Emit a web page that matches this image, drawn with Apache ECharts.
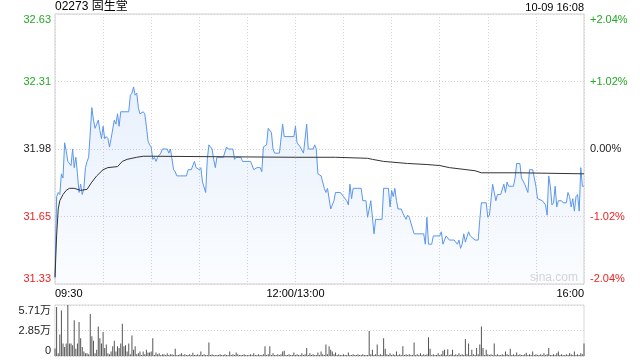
<!DOCTYPE html>
<html><head><meta charset="utf-8">
<script src="https://cdn.jsdelivr.net/npm/echarts@6/dist/echarts.min.js"></script>
<style>html,body{margin:0;padding:0;background:#fff}#c{width:640px;height:360px}</style>
</head><body><div id="c"></div>
<script>
// ---- data ----
const stockTitle = '02273 固生堂';
const stampText = '10-09 16:08';
const prevClose = 31.98;
const rangePct = 2.04;
const timeLabels = ['09:30', '12:00/13:00', '16:00'];
const timeLabelMinutes = [0, 150, 330];
// minutes of trading time since 09:30
const priceMinute = [0,1,2,3,4,5,6,7,8,10,11,12,13,14,15,16,17,18,19,20,21,23,24,25,26,27,28,29,30,31,32,33,34,35,36,37,38,39,40,41,42,46,47,48,49,50,51,52,53,54,55,56,57,58,59,60,61,62,63,64,65,66,67,70,71,72,73,74,75,76,82,83,85,87,88,90,91,92,94,95,96,97,98,99,100,101,105,107,108,111,112,113,116,117,122,124,126,128,129,130,132,133,135,136,137,140,142,143,149,150,151,153,155,157,158,161,162,163,164,166,168,169,170,172,174,175,178,180,182,183,184,185,186,191,192,194,195,196,197,199,200,204,205,208,209,210,211,212,213,214,216,217,219,220,221,222,224,230,231,232,233,235,236,240,241,242,244,246,249,251,252,253,254,255,256,258,259,260,262,264,265,266,269,270,271,273,275,276,278,280,281,282,283,286,287,288,290,291,293,295,296,298,300,301,304,306,307,308,309,310,311,312,313,314,316,317,319,320,321,322,323,324,325,326,327,328,329,330];
const priceValue = [31.36,31.75,31.77,31.76,31.86,31.84,32.01,31.97,31.92,31.90,31.98,31.89,31.94,31.86,31.77,31.81,31.76,31.79,31.89,31.92,31.94,32.18,32.12,32.08,32.10,32.12,32.07,32.03,32.09,32.03,32.04,32.03,31.99,32.03,32.03,32.12,32.10,32.15,32.09,32.16,32.16,32.16,32.24,32.25,32.28,32.24,32.25,32.18,32.15,32.15,32.16,32.15,32.09,32.02,32.00,31.99,31.93,31.94,31.92,31.94,31.94,31.96,31.98,31.98,31.96,31.98,31.98,31.88,31.87,31.85,31.85,31.88,31.88,31.92,31.89,31.88,31.89,31.82,31.77,31.93,32.00,31.99,31.98,31.93,31.89,31.94,31.94,31.99,31.98,31.98,31.93,31.94,31.94,31.92,31.92,31.88,31.89,31.89,31.87,31.99,32.00,32.08,32.06,31.98,31.96,31.96,32.10,32.04,32.04,32.09,32.01,31.99,31.96,32.10,31.98,31.98,32.00,31.98,31.86,31.85,31.79,31.77,31.79,31.69,31.73,31.77,31.77,31.75,31.73,31.71,31.81,31.74,31.79,31.79,31.73,31.73,31.65,31.69,31.73,31.57,31.64,31.64,31.79,31.79,31.70,31.78,31.75,31.79,31.73,31.69,31.69,31.67,31.64,31.66,31.65,31.65,31.57,31.57,31.52,31.65,31.52,31.52,31.56,31.56,31.58,31.52,31.56,31.54,31.54,31.52,31.54,31.50,31.52,31.57,31.53,31.58,31.56,31.56,31.54,31.54,31.64,31.72,31.72,31.65,31.66,31.81,31.73,31.76,31.76,31.81,31.77,31.82,31.80,31.80,31.84,31.91,31.91,31.84,31.81,31.77,31.88,31.88,31.80,31.74,31.73,31.71,31.66,31.85,31.80,31.71,31.72,31.80,31.70,31.73,31.73,31.72,31.72,31.77,31.75,31.70,31.74,31.68,31.75,31.76,31.68,31.89,31.80,31.80];
const avgMinute = [0,1,2,3,5,7,9,12,16,20,23,26,30,33,39,42,45,48,51,55,60,150,175,195,198,205,220,232,240,246,262,266,290,330];
const avgValue = [31.36,31.56,31.69,31.73,31.76,31.78,31.79,31.79,31.78,31.785,31.82,31.85,31.88,31.89,31.895,31.92,31.93,31.935,31.94,31.945,31.945,31.94,31.94,31.935,31.93,31.92,31.91,31.905,31.90,31.89,31.875,31.865,31.865,31.86];
// volume per minute, unit: 万股
const volume = [
0.85,5.5,0.3,2.4,5.1,1.4,1.0,1.4,5.71,1.4,
1.4,1.2,4.0,0.8,1.4,3.8,2.0,1.0,0.5,0.3,
0.3,0.2,4.7,2.2,1.7,0.3,0.7,3.3,2.0,1.4,
2.7,0.9,1.3,0.3,0.2,0.5,1.1,1.7,0.5,1.1,
0.9,1.4,3.6,1.1,1.2,0.5,1.4,0.2,2.3,0.7,
1.1,0.2,0.3,0.5,0.1,0.5,0.2,0.7,0.4,0.4,
0.5,2.0,0.1,0.4,0.2,0.3,0.1,0.2,0.2,0.1,
0.3,0.1,0.2,0.2,0.1,0.8,0.1,0.1,0.2,0.3,
0.1,0.2,0.1,0.1,0.2,0.1,0.35,0.1,0.1,0.2,
0.1,0.5,0.1,0.2,0.1,0.1,1.5,0.1,0.2,0.1,
0.1,0.1,0.1,0.2,0.1,0.1,0.2,0.1,0.1,0.5,
0.1,0.2,0.1,0.4,0.2,0.1,0.1,0.1,0.2,0.1,
0.1,0.1,0.2,0.1,0.3,0.1,0.1,0.2,0.1,0.1,
0.2,1.1,0.1,0.2,1.1,0.1,0.3,0.1,0.1,0.2,
0.1,0.2,0.5,0.6,0.1,0.1,0.2,0.1,0.1,0.4,
0.1,0.2,0.1,0.1,0.3,0.1,0.2,0.9,0.1,0.3,
0.1,0.2,0.1,0.1,0.4,0.1,0.5,0.2,0.1,1.3,
0.2,1.1,0.7,0.5,0.2,0.4,0.1,0.2,0.1,0.1,
0.2,0.1,0.1,0.4,0.1,0.1,0.2,0.1,0.1,0.2,
0.1,0.1,0.2,0.1,0.1,0.1,2.8,0.2,0.7,0.1,
0.2,1.3,0.1,0.2,0.1,2.0,0.8,0.2,0.1,0.3,
0.1,0.2,0.1,0.5,0.1,0.2,0.1,1.1,0.1,0.2,
0.1,0.2,0.1,0.1,1.5,0.1,0.2,0.1,0.3,0.1,
0.2,0.1,0.2,2.1,0.8,0.1,0.2,0.1,0.1,0.3,
0.1,0.2,0.6,0.7,0.1,0.75,0.1,0.2,0.7,0.1,
0.2,0.1,0.3,0.1,0.2,0.1,1.9,0.2,1.4,0.1,
0.7,0.2,0.1,0.9,0.2,1.3,3.3,0.9,0.1,0.7,
0.2,0.1,0.2,0.1,1.4,0.1,0.2,0.1,0.1,0.2,
0.1,0.5,0.2,0.1,0.8,0.1,0.2,0.1,0.4,0.1,
0.2,0.1,0.1,0.2,0.35,0.1,0.2,0.1,0.5,0.1,
0.2,0.1,0.1,0.2,0.1,0.3,0.1,0.2,0.9,0.1,
0.1,0.2,0.1,0.3,0.5,0.1,0.2,0.1,0.1,0.2,
0.1,0.3,0.2,0.1,0.5,0.1,0.2,0.1,0.3,0.2,
1.4];

// ---- chart ----
const FONT = '"Liberation Sans", Arial, "Noto Sans CJK SC", sans-serif';
const GREEN = '#22aa22', RED = '#ee2222', DARK = '#222';
const toPct = p => (p / prevClose - 1) * 100;
const sideColor = v => { v = Number(v); return v > 1e-9 ? GREEN : (v < -1e-9 ? RED : DARK); };
const volMax = Math.max.apply(null, volume);
const totalMin = 330;

const chart = echarts.init(document.getElementById('c'), null, {renderer: 'canvas'});
chart.setOption({
  animation: false,
  backgroundColor: '#fff',
  textStyle: {fontFamily: FONT},
  grid: [
    {left: 55, top: 14, width: 529, height: 270, show: true, borderColor: '#cfcfcf', borderWidth: 1},
    {left: 55, top: 305, width: 529, height: 51, show: true, borderColor: '#d8d8d8', borderWidth: 1}
  ],
  graphic: [
    {type: 'text', left: 55, top: 1, style: {text: stockTitle, fill: '#000', font: '12px ' + FONT}},
    {type: 'text', right: 56, top: 2, style: {text: stampText, fill: '#000', font: '11px ' + FONT}},
    {type: 'text', right: 62, top: 272, style: {text: 'sina.com', fill: '#d6d6d6', font: '12px ' + FONT}}
  ],
  xAxis: [
    {type: 'value', gridIndex: 0, min: 0, max: totalMin, interval: 30,
     axisLine: {show: false}, axisTick: {show: false},
     splitLine: {show: true, lineStyle: {color: '#d4d4d4', type: [1, 2], width: 1}},
     axisLabel: {show: true, margin: 4, fontSize: 11, color: '#000', fontFamily: FONT,
       showMinLabel: true, showMaxLabel: true, alignMinLabel: 'left', alignMaxLabel: 'right',
       formatter: v => { const k = timeLabelMinutes.indexOf(Math.round(v)); return k >= 0 ? timeLabels[k] : ''; }}},
    {type: 'value', gridIndex: 1, min: 0, max: totalMin, interval: 30,
     axisLine: {show: false}, axisTick: {show: false}, axisLabel: {show: false},
     splitLine: {show: false}}
  ],
  yAxis: [
    {type: 'value', gridIndex: 0, position: 'left', min: -rangePct, max: rangePct, interval: rangePct / 2,
     axisLine: {show: false}, axisTick: {show: false},
     splitLine: {show: true, lineStyle: {color: '#d4d4d4', type: [1, 2], width: 1}},
     axisLabel: {margin: 4, fontSize: 11, fontFamily: FONT, color: sideColor,
       verticalAlignMinLabel: 'bottom', verticalAlignMaxLabel: 'top',
       formatter: v => (prevClose * (1 + v / 100)).toFixed(2)}},
    {type: 'value', gridIndex: 0, position: 'right', min: -rangePct, max: rangePct, interval: rangePct / 2,
     axisLine: {show: false}, axisTick: {show: false}, splitLine: {show: false},
     axisLabel: {margin: 6, fontSize: 11, fontFamily: FONT, color: sideColor,
       verticalAlignMinLabel: 'bottom', verticalAlignMaxLabel: 'top',
       formatter: v => (v > 1e-9 ? '+' : '') + (Math.abs(v) < 1e-9 ? 0 : v).toFixed(2) + '%'}},
    {type: 'value', gridIndex: 1, position: 'left', min: 0, max: volMax, interval: volMax / 2,
     axisLine: {show: false}, axisTick: {show: false},
     splitLine: {show: true, lineStyle: {color: '#cfcfcf', type: [1, 2], width: 1}},
     axisLabel: {margin: 4, fontSize: 11, fontFamily: FONT, color: '#222',
       verticalAlignMinLabel: 'bottom', verticalAlignMaxLabel: 'top',
       formatter: v => v < 1e-9 ? '0' : (Math.floor(v * 100 + 1e-6) / 100).toFixed(2) + '万'}}
  ],
  series: [
    {type: 'line', xAxisIndex: 0, yAxisIndex: 0, symbol: 'none', z: 3,
     data: priceMinute.map((m, i) => [m, toPct(priceValue[i])]),
     lineStyle: {color: '#5b97ee', width: 1},
     areaStyle: {origin: 'start', color: new echarts.graphic.LinearGradient(0, 0, 0, 1, [
       {offset: 0, color: 'rgba(91,151,238,0.20)'}, {offset: 1, color: 'rgba(91,151,238,0.04)'}])}},
    {type: 'line', xAxisIndex: 0, yAxisIndex: 0, symbol: 'none', z: 4,
     data: avgMinute.map((m, i) => [m, toPct(avgValue[i])]),
     lineStyle: {color: '#333', width: 1}},
    {type: 'bar', xAxisIndex: 1, yAxisIndex: 2, barWidth: 1,
     data: volume.map((v, i) => [i, v]),
     itemStyle: {color: '#555'}}
  ]
});
</script>
</body></html>
